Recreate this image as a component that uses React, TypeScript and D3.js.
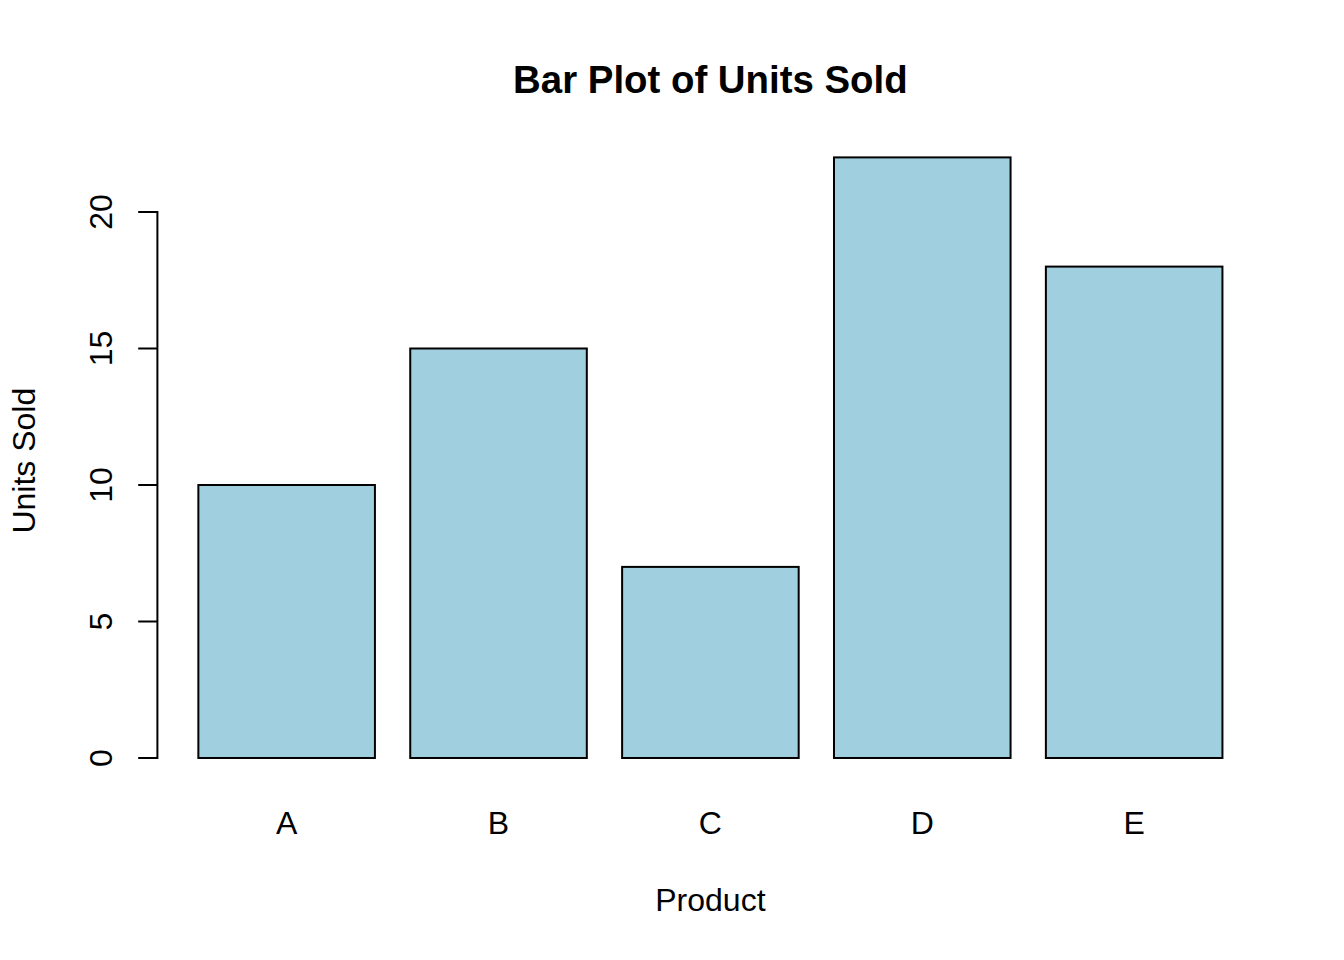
import React from "react";
import * as d3 from "d3";

const categories = ["A", "B", "C", "D", "E"];
const unitsSold = [10, 15, 7, 22, 18];
const yTicks = [0, 5, 10, 15, 20];
const title = "Bar Plot of Units Sold";
const xLabel = "Product";
const yLabel = "Units Sold";

const W = 1344;
const H = 960;
const plotLeft = 157.4;
const plotRight = 1263.4;
const FONT = "'Liberation Sans', Arial, Helvetica, sans-serif";
const FILL = "#A0CFE0";

export default function App() {
  const barWidth = 1;
  const space = 0.2;
  const lefts = categories.map((_, i) => space + i * (barWidth + space));
  const xMin = space;
  const xMax = lefts[lefts.length - 1] + barWidth;
  const pad = (xMax - xMin) * 0.04;
  const x = d3.scaleLinear().domain([xMin - pad, xMax + pad]).range([plotLeft, plotRight]);
  const y = d3.scaleLinear().domain([0, 22]).range([758, 157.4]);

  const tickLen = 19.2;
  const yTop = y(yTicks[yTicks.length - 1]);
  const yBot = y(yTicks[0]);

  return (
    <svg
      width={W}
      height={H}
      style={{ position: "absolute", left: 0, top: 0, background: "#fff" }}
      fontFamily={FONT}
    >
      <rect x={0} y={0} width={W} height={H} fill="#fff" />
      {categories.map((c, i) => (
        <rect
          key={c}
          x={x(lefts[i])}
          y={y(unitsSold[i])}
          width={x(lefts[i] + barWidth) - x(lefts[i])}
          height={y(0) - y(unitsSold[i])}
          fill={FILL}
          stroke="#000"
          strokeWidth={2}
        />
      ))}
      {/* y axis */}
      <line x1={plotLeft} x2={plotLeft} y1={yTop} y2={yBot} stroke="#000" strokeWidth={2} strokeLinecap="square" />
      {yTicks.map((t) => (
        <g key={t}>
          <line x1={plotLeft - tickLen} x2={plotLeft} y1={y(t)} y2={y(t)} stroke="#000" strokeWidth={2} />
          <text
            transform={`translate(112,${y(t)}) rotate(-90)`}
            textAnchor="middle"
            fontSize={32}
            fill="#000"
          >
            {t}
          </text>
        </g>
      ))}
      {/* x category labels */}
      {categories.map((c, i) => (
        <text
          key={c}
          x={x(lefts[i] + barWidth / 2)}
          y={834}
          textAnchor="middle"
          fontSize={32}
          fill="#000"
        >
          {c}
        </text>
      ))}
      <text x={(plotLeft + plotRight) / 2} y={911} textAnchor="middle" fontSize={32} fill="#000">
        {xLabel}
      </text>
      <text
        transform={`translate(35,${(y(0) + 157.4) / 2 + 3}) rotate(-90)`}
        textAnchor="middle"
        fontSize={32}
        fill="#000"
      >
        {yLabel}
      </text>
      <text
        x={(plotLeft + plotRight) / 2}
        y={93}
        textAnchor="middle"
        fontSize={38.4}
        fontWeight="bold"
        fill="#000"
      >
        {title}
      </text>
    </svg>
  );
}
